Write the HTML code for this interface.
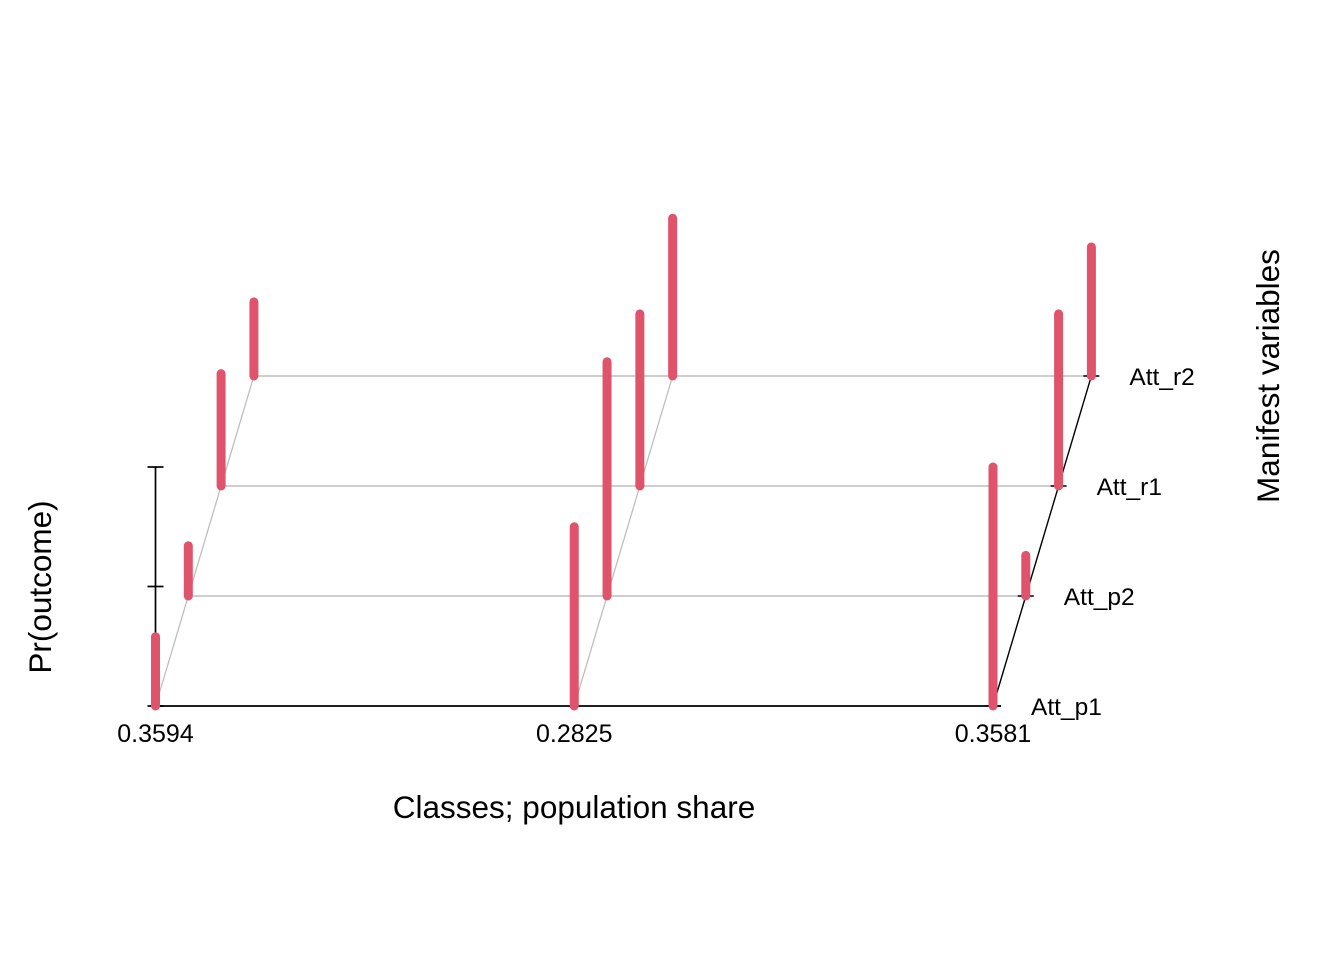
<!DOCTYPE html>
<html><head><meta charset="utf-8"><style>
body{margin:0;background:#fff}
svg{display:block;font-family:"Liberation Sans",Arial,sans-serif}
</style></head><body>
<svg id="chart" width="1344" height="960" viewBox="0 0 1344 960">
<g id="grid"></g><g id="axes"></g><g id="bars"></g><g id="labels"></g>
</svg>
<script>
const classes = ["0.3594","0.2825","0.3581"];
const variables = ["Att_p1","Att_p2","Att_r1","Att_r2"];
const class1 = [0.29,0.21,0.47,0.31];
const class2 = [0.75,0.98,0.72,0.66];
const class3 = [1.00,0.17,0.72,0.54];
const yTicks = [0,0.5,1];
const series=[class1,class2,class3];
const NS="http://www.w3.org/2000/svg";
function mk(tag,attrs,parent){const e=document.createElementNS(NS,tag);for(const k in attrs)e.setAttribute(k,attrs[k]);parent.appendChild(e);return e;}
const x0=155.5, y0=706, dx=32.8, dy=-110, pw=239;
function cx(c){return x0+c*(993-x0)/(classes.length-1);}
function bx(c,v){return cx(c)+v*dx;}
function by(v){return y0+v*dy;}
function py(p){return p*pw;}
const grid=document.getElementById('grid'),axes=document.getElementById('axes'),bars=document.getElementById('bars'),labels=document.getElementById('labels');
const last=classes.length-1, lv=variables.length-1;
for(let v=1;v<variables.length;v++){
  const l=mk('line',{x1:bx(0,v),y1:by(v),x2:bx(last,v),y2:by(v),stroke:'#bebebe','stroke-width':1.5},grid);
  
  
}
for(let c=0;c<last;c++){
  const l=mk('line',{x1:bx(c,0),y1:by(0),x2:bx(c,lv),y2:by(lv),stroke:'#bebebe','stroke-width':1.3},grid);
  
  
}
let a=mk('line',{x1:x0,y1:y0,x2:bx(last,0)+8,y2:y0,stroke:'#000','stroke-width':1.7},axes);

a=mk('line',{x1:bx(last,0),y1:by(0),x2:bx(last,lv),y2:by(lv),stroke:'#000','stroke-width':1.4},axes);

for(let v=0;v<variables.length;v++){
  const t=mk('line',{x1:bx(last,v)-8,y1:by(v),x2:bx(last,v)+8,y2:by(v),stroke:'#000','stroke-width':1.4},axes);
  
  const tx=mk('text',{x:bx(last,v)+38,y:by(v)+9,'font-size':24.5},labels);tx.textContent=variables[v];
  
}
a=mk('line',{x1:x0,y1:y0,x2:x0,y2:y0-py(yTicks[yTicks.length-1]),stroke:'#000','stroke-width':1.7},axes);

yTicks.forEach(t=>{const l=mk('line',{x1:x0-8,y1:y0-py(t),x2:x0+8,y2:y0-py(t),stroke:'#000','stroke-width':1.7},axes);
  });
series.forEach((s,c)=>s.forEach((p,v)=>{
  const b=mk('line',{x1:bx(c,v),y1:by(v),x2:bx(c,v),y2:by(v)-py(p),stroke:'#df536b','stroke-width':9,'stroke-linecap':'round'},bars);
  
}));
classes.forEach((c,i)=>{const t=mk('text',{x:cx(i),y:742,'font-size':25,'text-anchor':'middle'},labels);t.textContent=c;
  });
let t=mk('text',{x:574,y:818,'font-size':31.5,'text-anchor':'middle'},labels);t.textContent='Classes; population share';

t=mk('text',{x:0,y:0,'font-size':31.5,'text-anchor':'middle',transform:'translate(51,587) rotate(-90)'},labels);t.textContent='Pr(outcome)';

t=mk('text',{x:0,y:0,'font-size':31.5,'text-anchor':'middle',transform:'translate(1279,376) rotate(-90)'},labels);t.textContent='Manifest variables';

</script>
</body></html>
